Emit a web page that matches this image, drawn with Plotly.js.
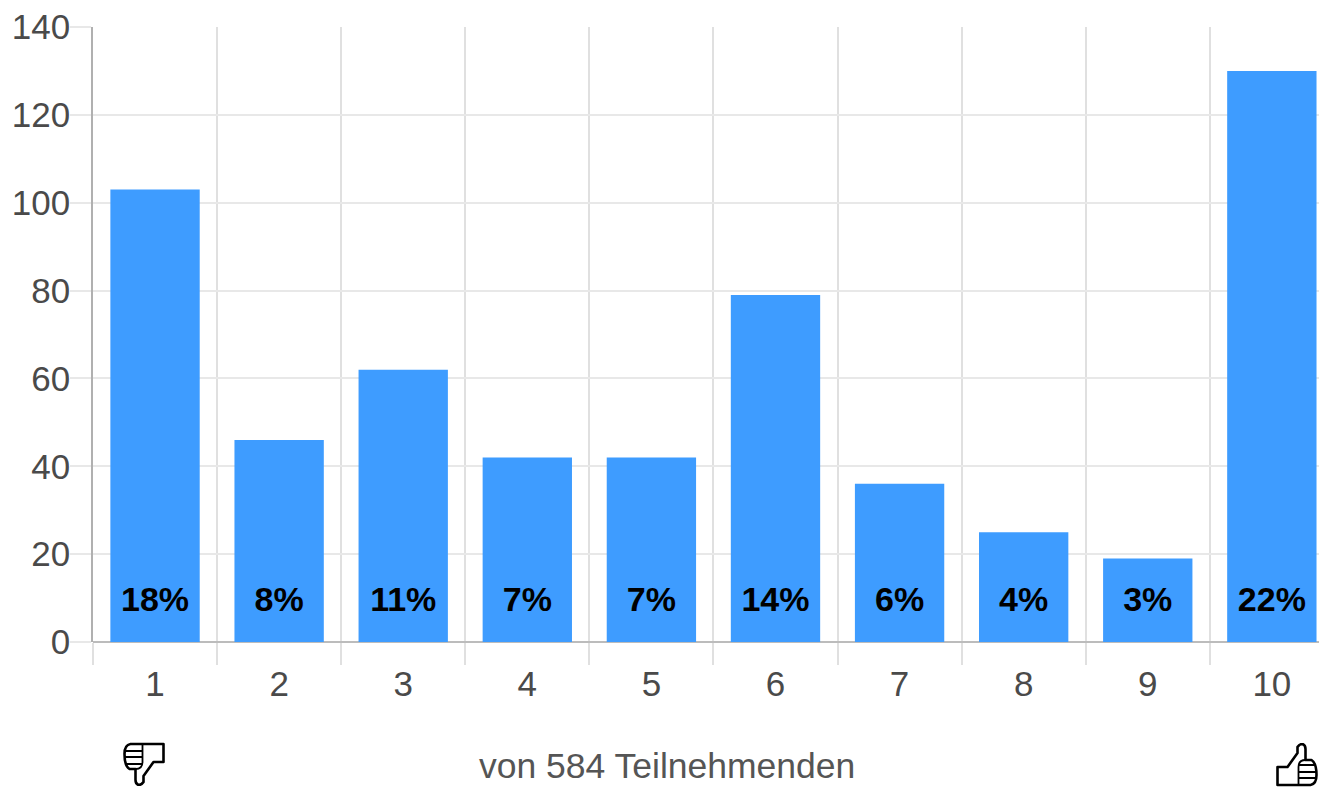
<!DOCTYPE html>
<html><head><meta charset="utf-8">
<script src="https://cdn.plot.ly/plotly-3.0.1.min.js"></script>
<style>html,body{margin:0;padding:0;background:#fff;overflow:hidden}#c{width:1319px;height:787px}</style>
</head><body><div id="c"></div>
<script>
const categories = ['1','2','3','4','5','6','7','8','9','10'];
const counts = [103,46,62,42,42,79,36,25,19,130];
const percentLabels = ['18%','8%','11%','7%','7%','14%','6%','4%','3%','22%'];
const labelLevel = categories.map(() => 9);
const caption = 'von 584 Teilnehmenden';

const down = 'data:image/svg+xml;utf8,' + encodeURIComponent('<svg xmlns="http://www.w3.org/2000/svg" viewBox="0 0 42 44"><g fill="#fff" stroke="#000" stroke-width="2.6" stroke-linejoin="round"><path d="M20 2H41V20H31L21 34V40Q19 43 16 43Q13 42 13 38V27H7Q2 24 2 12Q2 3 8 2Z"/><path fill="none" stroke-width="1.8" d="M20 2V20Q20 27 13 27M3 9H20M2 15H20M4 22H19"/></g></svg>');
const up = 'data:image/svg+xml;utf8,' + encodeURIComponent('<svg xmlns="http://www.w3.org/2000/svg" viewBox="0 0 42 44"><g fill="#fff" stroke="#000" stroke-width="2.6" stroke-linejoin="round"><path d="M22 42H1V24H11L21 10V4Q23 1 26 1Q29 2 29 6V17H35Q40 20 40 32Q40 41 34 42Z"/><path fill="none" stroke-width="1.8" d="M22 42V24Q22 17 29 17M39 35H22M40 29H22M38 22H23"/></g></svg>');

const axisFont = {family:'"Liberation Sans",Arial,sans-serif', size:35, color:'#4a4a4a'};
Plotly.newPlot('c', [
  {type:'bar', x:categories, y:counts, width:0.72, marker:{color:'#3e9cff', line:{width:0}}, hoverinfo:'x+y'},
  {type:'scatter', mode:'text', x:categories, y:labelLevel, text:percentLabels, textposition:'middle center',
   textfont:{family:'"Liberation Sans",Arial,sans-serif', size:34, color:'#000', weight:700}, hoverinfo:'skip'}
], {
  width:1319, height:787, margin:{l:93,r:0,t:27,b:145}, showlegend:false,
  paper_bgcolor:'#fff', plot_bgcolor:'#fff', bargap:0.28,
  xaxis:{type:'category', tickson:'boundaries', range:[-0.5,9.38], autorange:false, fixedrange:true,
    showgrid:true, gridcolor:'#e0e0e0', gridwidth:1.5, ticks:'outside', ticklen:22, tickwidth:1.5, tickcolor:'#e0e0e0',
    ticklabelstandoff:18, showline:false, zeroline:false, tickfont:axisFont},
  yaxis:{range:[0,140], autorange:false, dtick:20, fixedrange:true, showgrid:true, gridcolor:'#e8e8e8', gridwidth:1.5,
    ticks:'outside', ticklen:21, tickwidth:1.5, tickcolor:'#e8e8e8', ticklabelstandoff:-7, showline:true, linecolor:'#b0b0b0', linewidth:1.5,
    zeroline:true, zerolinecolor:'#bcbcbc', zerolinewidth:2, tickfont:axisFont},
  annotations:[{text:caption, xref:'paper', yref:'paper', x:(667-93)/1226, y:(642-766)/615, xanchor:'center', yanchor:'middle',
    showarrow:false, font:{family:'"Liberation Sans",Arial,sans-serif', size:35.5, color:'#555'}}],
  images:[
    {source:down, xref:'paper', yref:'paper', x:(122-93)/1226, y:(642-742)/615, sizex:43/1226, sizey:44/615, xanchor:'left', yanchor:'top', sizing:'contain', layer:'above'},
    {source:up, xref:'paper', yref:'paper', x:(1276-93)/1226, y:(642-743)/615, sizex:43/1226, sizey:44/615, xanchor:'left', yanchor:'top', sizing:'contain', layer:'above'}
  ]
}, {displayModeBar:false, responsive:false});
</script></body></html>
